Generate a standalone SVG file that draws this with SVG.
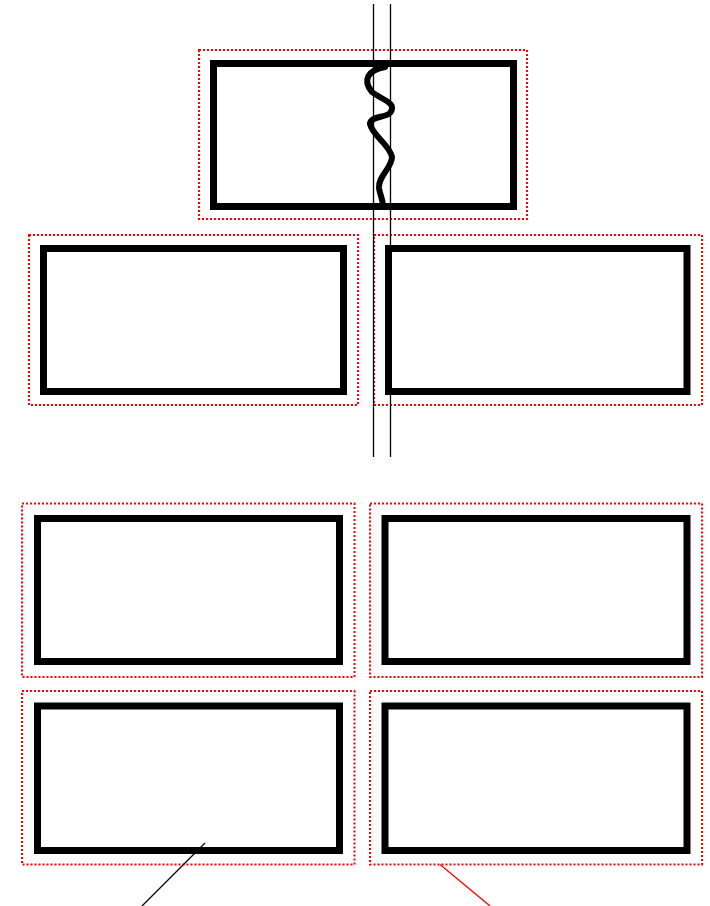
<svg xmlns="http://www.w3.org/2000/svg" width="710" height="906" viewBox="0 0 710 906">
<style>
.box{fill:none;stroke:#000;stroke-width:7}
.sel{fill:none;stroke:#f00;stroke-width:2;stroke-dasharray:2 2}
.thin{stroke:#000;stroke-width:1.3;fill:none}
</style>
<rect width="710" height="906" fill="#fff"/>
<g id="node-top"><rect class="sel" x="199" y="50" width="328" height="169"/><rect class="box" x="213.5" y="63.5" width="300" height="143"/></g>
<g id="node-r2-left"><rect class="sel" x="29" y="235" width="329" height="170"/><rect class="box" x="43.5" y="248.5" width="300" height="143"/></g>
<g id="node-r2-right"><rect class="sel" x="374" y="235" width="328" height="170"/><rect class="box" x="388.5" y="248.5" width="298.5" height="143"/></g>
<g id="node-r3-left"><rect class="sel" x="22" y="503.5" width="332.5" height="173.5"/><rect class="box" x="37.5" y="518.5" width="302" height="143"/></g>
<g id="node-r3-right"><rect class="sel" x="370" y="503.5" width="332" height="173.5"/><rect class="box" x="385" y="518.5" width="302" height="143"/></g>
<g id="node-r4-left"><rect class="sel" x="22" y="691" width="332.5" height="173.5"/><rect class="box" x="37.5" y="706" width="302" height="144.5"/></g>
<g id="node-r4-right"><rect class="sel" x="370" y="691" width="332" height="173.5"/><rect class="box" x="385" y="706" width="302" height="144.5"/></g>
<g id="connectors">
<line class="thin" x1="373.5" y1="4" x2="373.5" y2="457"/>
<line class="thin" x1="390.5" y1="4" x2="390.5" y2="457"/>
<path d="M 385 67 C 368 70, 362 80, 372 92 C 382 100, 398 103, 390 113 C 385 118, 370 116, 370 124 C 372 135, 390 145, 392 157 C 392 168, 378 176, 379 188 C 380 196, 383 198, 383 207" fill="none" stroke="#000" stroke-width="6" stroke-linecap="round"/>
<line x1="205" y1="843" x2="142" y2="906" stroke="#000" stroke-width="1.3"/>
<line x1="440" y1="864.5" x2="490" y2="906" stroke="#f00" stroke-width="1.3"/>
</g>
</svg>
